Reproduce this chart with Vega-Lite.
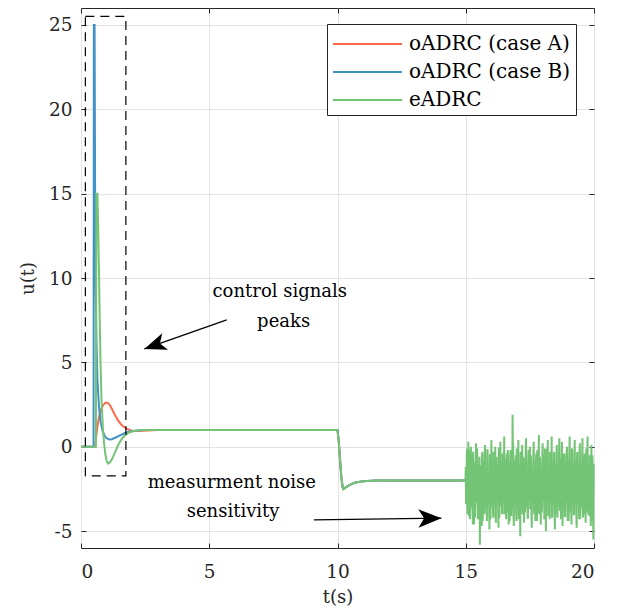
{
"$schema":"https://vega.github.io/schema/vega-lite/v6.json",
"width":513,"height":540,
"autosize":{"type":"none"},
"padding":{"left":81,"top":8,"right":27,"bottom":65},
"background":"white",
"config":{
 "font":"DejaVu Serif",
 "view":{"stroke":"#262626","strokeWidth":1},
 "axis":{"domain":false,"tickColor":"#262626","tickWidth":1,"tickSize":-5,"labelFont":"DejaVu Serif","labelFontSize":18.5,"labelColor":"#262626","gridColor":"#e3e3e3","gridWidth":1,"titleFont":"DejaVu Serif","titleFontSize":18,"titleColor":"#262626","titleFontWeight":"normal"}
},
"resolve":{"axis":{"x":"independent","y":"independent"}},
"datasets":{
 "series":[
  {"t":0,"u":0,"s":"oADRC (case A)"},{"t":0.55,"u":0,"s":"oADRC (case A)"},{"t":0.6,"u":0.7,"s":"oADRC (case A)"},{"t":0.65,"u":1.3,"s":"oADRC (case A)"},{"t":0.7,"u":1.75,"s":"oADRC (case A)"},{"t":0.78,"u":2.2,"s":"oADRC (case A)"},{"t":0.86,"u":2.45,"s":"oADRC (case A)"},{"t":0.95,"u":2.6,"s":"oADRC (case A)"},{"t":1.0,"u":2.62,"s":"oADRC (case A)"},{"t":1.07,"u":2.58,"s":"oADRC (case A)"},{"t":1.15,"u":2.4,"s":"oADRC (case A)"},{"t":1.25,"u":2.1,"s":"oADRC (case A)"},{"t":1.35,"u":1.8,"s":"oADRC (case A)"},{"t":1.45,"u":1.55,"s":"oADRC (case A)"},{"t":1.55,"u":1.35,"s":"oADRC (case A)"},{"t":1.65,"u":1.2,"s":"oADRC (case A)"},{"t":1.8,"u":1.05,"s":"oADRC (case A)"},{"t":1.95,"u":0.97,"s":"oADRC (case A)"},{"t":2.1,"u":0.94,"s":"oADRC (case A)"},{"t":2.4,"u":0.95,"s":"oADRC (case A)"},{"t":2.8,"u":0.98,"s":"oADRC (case A)"},{"t":3.2,"u":1.0,"s":"oADRC (case A)"},{"t":10,"u":1.0,"s":"oADRC (case A)"},{"t":10.05,"u":0.3,"s":"oADRC (case A)"},{"t":10.1,"u":-0.8,"s":"oADRC (case A)"},{"t":10.15,"u":-1.8,"s":"oADRC (case A)"},{"t":10.2,"u":-2.4,"s":"oADRC (case A)"},{"t":10.23,"u":-2.5,"s":"oADRC (case A)"},{"t":10.35,"u":-2.38,"s":"oADRC (case A)"},{"t":10.5,"u":-2.24,"s":"oADRC (case A)"},{"t":10.7,"u":-2.12,"s":"oADRC (case A)"},{"t":11,"u":-2.04,"s":"oADRC (case A)"},{"t":11.5,"u":-2.0,"s":"oADRC (case A)"},{"t":20,"u":-2.0,"s":"oADRC (case A)"},
  {"t":0,"u":0,"s":"oADRC (case B)"},{"t":0.49,"u":0,"s":"oADRC (case B)"},{"t":0.5,"u":25,"s":"oADRC (case B)"},{"t":0.53,"u":25,"s":"oADRC (case B)"},{"t":0.55,"u":15,"s":"oADRC (case B)"},{"t":0.57,"u":10,"s":"oADRC (case B)"},{"t":0.6,"u":6.5,"s":"oADRC (case B)"},{"t":0.64,"u":4,"s":"oADRC (case B)"},{"t":0.7,"u":2.4,"s":"oADRC (case B)"},{"t":0.76,"u":1.5,"s":"oADRC (case B)"},{"t":0.84,"u":0.95,"s":"oADRC (case B)"},{"t":0.92,"u":0.65,"s":"oADRC (case B)"},{"t":1.0,"u":0.5,"s":"oADRC (case B)"},{"t":1.1,"u":0.43,"s":"oADRC (case B)"},{"t":1.2,"u":0.45,"s":"oADRC (case B)"},{"t":1.35,"u":0.55,"s":"oADRC (case B)"},{"t":1.5,"u":0.66,"s":"oADRC (case B)"},{"t":1.7,"u":0.8,"s":"oADRC (case B)"},{"t":1.9,"u":0.9,"s":"oADRC (case B)"},{"t":2.2,"u":0.97,"s":"oADRC (case B)"},{"t":2.6,"u":1.0,"s":"oADRC (case B)"},{"t":10,"u":1.0,"s":"oADRC (case B)"},{"t":10.05,"u":0.3,"s":"oADRC (case B)"},{"t":10.1,"u":-0.8,"s":"oADRC (case B)"},{"t":10.15,"u":-1.8,"s":"oADRC (case B)"},{"t":10.2,"u":-2.4,"s":"oADRC (case B)"},{"t":10.23,"u":-2.5,"s":"oADRC (case B)"},{"t":10.35,"u":-2.38,"s":"oADRC (case B)"},{"t":10.5,"u":-2.24,"s":"oADRC (case B)"},{"t":10.7,"u":-2.12,"s":"oADRC (case B)"},{"t":11,"u":-2.04,"s":"oADRC (case B)"},{"t":11.5,"u":-2.0,"s":"oADRC (case B)"},{"t":20,"u":-2.0,"s":"oADRC (case B)"},
  {"t":0,"u":0,"s":"eADRC"},{"t":0.58,"u":0,"s":"eADRC"},{"t":0.6,"u":15,"s":"eADRC"},{"t":0.64,"u":15,"s":"eADRC"},{"t":0.67,"u":13,"s":"eADRC"},{"t":0.7,"u":10.5,"s":"eADRC"},{"t":0.73,"u":7.5,"s":"eADRC"},{"t":0.76,"u":5,"s":"eADRC"},{"t":0.8,"u":2.8,"s":"eADRC"},{"t":0.85,"u":1.2,"s":"eADRC"},{"t":0.9,"u":0.2,"s":"eADRC"},{"t":0.95,"u":-0.45,"s":"eADRC"},{"t":1.0,"u":-0.85,"s":"eADRC"},{"t":1.06,"u":-1.0,"s":"eADRC"},{"t":1.13,"u":-0.92,"s":"eADRC"},{"t":1.22,"u":-0.7,"s":"eADRC"},{"t":1.32,"u":-0.35,"s":"eADRC"},{"t":1.42,"u":0.0,"s":"eADRC"},{"t":1.52,"u":0.3,"s":"eADRC"},{"t":1.62,"u":0.52,"s":"eADRC"},{"t":1.75,"u":0.72,"s":"eADRC"},{"t":1.9,"u":0.86,"s":"eADRC"},{"t":2.1,"u":0.95,"s":"eADRC"},{"t":2.5,"u":1.0,"s":"eADRC"},{"t":10,"u":1.0,"s":"eADRC"},{"t":10.05,"u":0.3,"s":"eADRC"},{"t":10.1,"u":-0.8,"s":"eADRC"},{"t":10.15,"u":-1.8,"s":"eADRC"},{"t":10.2,"u":-2.4,"s":"eADRC"},{"t":10.23,"u":-2.5,"s":"eADRC"},{"t":10.35,"u":-2.38,"s":"eADRC"},{"t":10.5,"u":-2.24,"s":"eADRC"},{"t":10.7,"u":-2.12,"s":"eADRC"},{"t":11,"u":-2.04,"s":"eADRC"},{"t":11.5,"u":-2.0,"s":"eADRC"},{"t":14.99,"u":-2.0,"s":"eADRC"},
  {"t":15,"u":-1.2,"s":"eADRC"},{"t":15.025,"u":-3.2,"s":"eADRC"},{"t":15.05,"u":-0.1,"s":"eADRC"},{"t":15.075,"u":-2.6,"s":"eADRC"},{"t":15.1,"u":0.3,"s":"eADRC"},{"t":15.125,"u":-4.1,"s":"eADRC"},{"t":15.15,"u":-1.6,"s":"eADRC"},{"t":15.175,"u":-3.7,"s":"eADRC"},{"t":15.2,"u":0.0,"s":"eADRC"},{"t":15.225,"u":-2.9,"s":"eADRC"},
  {"t":15.25,"u":-0.6,"s":"eADRC"},{"t":15.275,"u":-4.6,"s":"eADRC"},{"t":15.3,"u":-1.3,"s":"eADRC"},{"t":15.325,"u":-4.6,"s":"eADRC"},{"t":15.35,"u":-0.9,"s":"eADRC"},{"t":15.375,"u":-3.4,"s":"eADRC"},{"t":15.4,"u":0.2,"s":"eADRC"},{"t":15.425,"u":-2.3,"s":"eADRC"},{"t":15.45,"u":-0.4,"s":"eADRC"},{"t":15.475,"u":-4.3,"s":"eADRC"},
  {"t":15.5,"u":-1.8,"s":"eADRC"},{"t":15.525,"u":-3.9,"s":"eADRC"},{"t":15.55,"u":-5.8,"s":"eADRC"},{"t":15.575,"u":-3.0,"s":"eADRC"},{"t":15.6,"u":-1.1,"s":"eADRC"},{"t":15.625,"u":-4.7,"s":"eADRC"},{"t":15.65,"u":-0.3,"s":"eADRC"},{"t":15.675,"u":-2.5,"s":"eADRC"},{"t":15.7,"u":-0.8,"s":"eADRC"},{"t":15.725,"u":-4.0,"s":"eADRC"},
  {"t":15.75,"u":0.1,"s":"eADRC"},{"t":15.775,"u":-2.8,"s":"eADRC"},{"t":15.8,"u":-1.5,"s":"eADRC"},{"t":15.825,"u":-4.4,"s":"eADRC"},{"t":15.85,"u":-0.2,"s":"eADRC"},{"t":15.875,"u":-3.3,"s":"eADRC"},{"t":15.9,"u":-1.7,"s":"eADRC"},{"t":15.925,"u":-4.9,"s":"eADRC"},{"t":15.95,"u":-0.5,"s":"eADRC"},{"t":15.975,"u":-2.7,"s":"eADRC"},
  {"t":16,"u":0.4,"s":"eADRC"},{"t":16.025,"u":-3.6,"s":"eADRC"},{"t":16.05,"u":-1.4,"s":"eADRC"},{"t":16.075,"u":-4.2,"s":"eADRC"},{"t":16.1,"u":-1.0,"s":"eADRC"},{"t":16.125,"u":-2.4,"s":"eADRC"},{"t":16.15,"u":0.0,"s":"eADRC"},{"t":16.175,"u":-4.5,"s":"eADRC"},{"t":16.2,"u":-0.7,"s":"eADRC"},{"t":16.225,"u":-3.1,"s":"eADRC"},
  {"t":16.25,"u":-1.9,"s":"eADRC"},{"t":16.275,"u":-4.8,"s":"eADRC"},{"t":16.3,"u":-0.1,"s":"eADRC"},{"t":16.325,"u":-2.9,"s":"eADRC"},{"t":16.35,"u":0.3,"s":"eADRC"},{"t":16.375,"u":-3.5,"s":"eADRC"},{"t":16.4,"u":-1.2,"s":"eADRC"},{"t":16.425,"u":-4.0,"s":"eADRC"},{"t":16.45,"u":-0.6,"s":"eADRC"},{"t":16.475,"u":-2.2,"s":"eADRC"},
  {"t":16.5,"u":0.6,"s":"eADRC"},{"t":16.525,"u":-3.8,"s":"eADRC"},{"t":16.55,"u":-1.6,"s":"eADRC"},{"t":16.575,"u":-4.3,"s":"eADRC"},{"t":16.6,"u":-0.4,"s":"eADRC"},{"t":16.625,"u":-3.0,"s":"eADRC"},{"t":16.65,"u":-0.7,"s":"eADRC"},{"t":16.675,"u":-4.6,"s":"eADRC"},{"t":16.7,"u":-0.9,"s":"eADRC"},{"t":16.725,"u":-2.6,"s":"eADRC"},
  {"t":16.75,"u":-0.2,"s":"eADRC"},{"t":16.775,"u":-4.1,"s":"eADRC"},{"t":16.8,"u":-1.3,"s":"eADRC"},{"t":16.825,"u":1.9,"s":"eADRC"},{"t":16.85,"u":0.2,"s":"eADRC"},{"t":16.875,"u":-4.7,"s":"eADRC"},{"t":16.9,"u":-1.1,"s":"eADRC"},{"t":16.925,"u":-2.8,"s":"eADRC"},{"t":16.95,"u":-0.5,"s":"eADRC"},{"t":16.975,"u":-4.4,"s":"eADRC"},
  {"t":17,"u":-1.7,"s":"eADRC"},{"t":17.025,"u":-3.7,"s":"eADRC"},{"t":17.05,"u":0.4,"s":"eADRC"},{"t":17.075,"u":-3.2,"s":"eADRC"},{"t":17.1,"u":-1.0,"s":"eADRC"},{"t":17.125,"u":-5.3,"s":"eADRC"},{"t":17.15,"u":-0.3,"s":"eADRC"},{"t":17.175,"u":-2.5,"s":"eADRC"},{"t":17.2,"u":0.1,"s":"eADRC"},{"t":17.225,"u":-3.9,"s":"eADRC"},
  {"t":17.25,"u":-1.4,"s":"eADRC"},{"t":17.275,"u":-4.5,"s":"eADRC"},{"t":17.3,"u":-0.7,"s":"eADRC"},{"t":17.325,"u":-2.3,"s":"eADRC"},{"t":17.35,"u":0.5,"s":"eADRC"},{"t":17.375,"u":-3.6,"s":"eADRC"},{"t":17.4,"u":-1.8,"s":"eADRC"},{"t":17.425,"u":-4.2,"s":"eADRC"},{"t":17.45,"u":-0.2,"s":"eADRC"},{"t":17.475,"u":-3.1,"s":"eADRC"},
  {"t":17.5,"u":0.0,"s":"eADRC"},{"t":17.525,"u":-2.7,"s":"eADRC"},{"t":17.55,"u":-0.9,"s":"eADRC"},{"t":17.575,"u":-4.8,"s":"eADRC"},{"t":17.6,"u":-1.5,"s":"eADRC"},{"t":17.625,"u":-3.3,"s":"eADRC"},{"t":17.65,"u":0.3,"s":"eADRC"},{"t":17.675,"u":-4.0,"s":"eADRC"},{"t":17.7,"u":-1.2,"s":"eADRC"},{"t":17.725,"u":-2.9,"s":"eADRC"},
  {"t":17.75,"u":-0.4,"s":"eADRC"},{"t":17.775,"u":-4.4,"s":"eADRC"},{"t":17.8,"u":-1.6,"s":"eADRC"},{"t":17.825,"u":-3.8,"s":"eADRC"},{"t":17.85,"u":0.7,"s":"eADRC"},{"t":17.875,"u":-3.0,"s":"eADRC"},{"t":17.9,"u":-0.8,"s":"eADRC"},{"t":17.925,"u":-4.6,"s":"eADRC"},{"t":17.95,"u":-1.3,"s":"eADRC"},{"t":17.975,"u":-3.5,"s":"eADRC"},
  {"t":18,"u":0.2,"s":"eADRC"},{"t":18.025,"u":-2.4,"s":"eADRC"},{"t":18.05,"u":-0.5,"s":"eADRC"},{"t":18.075,"u":-4.1,"s":"eADRC"},{"t":18.1,"u":-1.1,"s":"eADRC"},{"t":18.125,"u":-5.0,"s":"eADRC"},{"t":18.15,"u":-0.1,"s":"eADRC"},{"t":18.175,"u":-2.8,"s":"eADRC"},{"t":18.2,"u":0.4,"s":"eADRC"},{"t":18.225,"u":-3.7,"s":"eADRC"},
  {"t":18.25,"u":-1.7,"s":"eADRC"},{"t":18.275,"u":-4.3,"s":"eADRC"},{"t":18.3,"u":-0.6,"s":"eADRC"},{"t":18.325,"u":-3.2,"s":"eADRC"},{"t":18.35,"u":0.6,"s":"eADRC"},{"t":18.375,"u":-4.0,"s":"eADRC"},{"t":18.4,"u":-1.4,"s":"eADRC"},{"t":18.425,"u":-2.6,"s":"eADRC"},{"t":18.45,"u":-0.3,"s":"eADRC"},{"t":18.475,"u":-4.9,"s":"eADRC"},
  {"t":18.5,"u":-1.0,"s":"eADRC"},{"t":18.525,"u":-3.4,"s":"eADRC"},{"t":18.55,"u":0.1,"s":"eADRC"},{"t":18.575,"u":-4.2,"s":"eADRC"},{"t":18.6,"u":-1.5,"s":"eADRC"},{"t":18.625,"u":-3.1,"s":"eADRC"},{"t":18.65,"u":0.5,"s":"eADRC"},{"t":18.675,"u":-3.8,"s":"eADRC"},{"t":18.7,"u":-0.7,"s":"eADRC"},{"t":18.725,"u":-2.5,"s":"eADRC"},
  {"t":18.75,"u":0.3,"s":"eADRC"},{"t":18.775,"u":-4.7,"s":"eADRC"},{"t":18.8,"u":-1.2,"s":"eADRC"},{"t":18.825,"u":-3.5,"s":"eADRC"},{"t":18.85,"u":-0.4,"s":"eADRC"},{"t":18.875,"u":-4.1,"s":"eADRC"},{"t":18.9,"u":-1.8,"s":"eADRC"},{"t":18.925,"u":-3.0,"s":"eADRC"},{"t":18.95,"u":0.0,"s":"eADRC"},{"t":18.975,"u":-4.4,"s":"eADRC"},
  {"t":19,"u":-0.8,"s":"eADRC"},{"t":19.025,"u":-2.7,"s":"eADRC"},{"t":19.05,"u":0.6,"s":"eADRC"},{"t":19.075,"u":-3.9,"s":"eADRC"},{"t":19.1,"u":-1.6,"s":"eADRC"},{"t":19.125,"u":-4.6,"s":"eADRC"},{"t":19.15,"u":-0.2,"s":"eADRC"},{"t":19.175,"u":-3.2,"s":"eADRC"},{"t":19.2,"u":-1.1,"s":"eADRC"},{"t":19.225,"u":-4.0,"s":"eADRC"},
  {"t":19.25,"u":0.4,"s":"eADRC"},{"t":19.275,"u":-2.3,"s":"eADRC"},{"t":19.3,"u":-0.9,"s":"eADRC"},{"t":19.325,"u":-4.8,"s":"eADRC"},{"t":19.35,"u":-0.3,"s":"eADRC"},{"t":19.375,"u":-3.4,"s":"eADRC"},{"t":19.4,"u":-1.4,"s":"eADRC"},{"t":19.425,"u":-4.3,"s":"eADRC"},{"t":19.45,"u":0.2,"s":"eADRC"},{"t":19.475,"u":-2.9,"s":"eADRC"},
  {"t":19.5,"u":-1.3,"s":"eADRC"},{"t":19.525,"u":-3.6,"s":"eADRC"},{"t":19.55,"u":0.5,"s":"eADRC"},{"t":19.575,"u":-4.2,"s":"eADRC"},{"t":19.6,"u":-0.6,"s":"eADRC"},{"t":19.625,"u":-3.0,"s":"eADRC"},{"t":19.65,"u":-1.7,"s":"eADRC"},{"t":19.675,"u":-4.5,"s":"eADRC"},{"t":19.7,"u":-0.1,"s":"eADRC"},{"t":19.725,"u":-3.3,"s":"eADRC"},
  {"t":19.75,"u":0.6,"s":"eADRC"},{"t":19.775,"u":-4.0,"s":"eADRC"},{"t":19.8,"u":-1.2,"s":"eADRC"},{"t":19.825,"u":-2.6,"s":"eADRC"},{"t":19.85,"u":-0.5,"s":"eADRC"},{"t":19.875,"u":-4.7,"s":"eADRC"},{"t":19.9,"u":0.1,"s":"eADRC"},{"t":19.925,"u":-3.1,"s":"eADRC"},{"t":19.95,"u":-1.5,"s":"eADRC"},{"t":19.975,"u":-5.5,"s":"eADRC"},
  {"t":20,"u":-1.0,"s":"eADRC"},
  {"t":15.0125,"u":-3.4,"s":"eADRC"},{"t":15.0375,"u":-0.8,"s":"eADRC"},{"t":15.0625,"u":-4.0,"s":"eADRC"},{"t":15.0875,"u":-1.9,"s":"eADRC"},{"t":15.1125,"u":-3.1,"s":"eADRC"},{"t":15.1375,"u":-0.2,"s":"eADRC"},{"t":15.1625,"u":-4.3,"s":"eADRC"},{"t":15.1875,"u":-1.1,"s":"eADRC"},{"t":15.2125,"u":-3.6,"s":"eADRC"},{"t":15.2375,"u":-0.5,"s":"eADRC"},
  {"t":15.2625,"u":-2.8,"s":"eADRC"},{"t":15.2875,"u":-0.3,"s":"eADRC"},{"t":15.3125,"u":-3.9,"s":"eADRC"},{"t":15.3375,"u":-1.5,"s":"eADRC"},{"t":15.3625,"u":-4.2,"s":"eADRC"},{"t":15.3875,"u":-0.9,"s":"eADRC"},{"t":15.4125,"u":-3.3,"s":"eADRC"},{"t":15.4375,"u":-0.1,"s":"eADRC"},{"t":15.4625,"u":-2.5,"s":"eADRC"},{"t":15.4875,"u":-1.2,"s":"eADRC"},
  {"t":15.5125,"u":-4.1,"s":"eADRC"},{"t":15.5375,"u":-0.6,"s":"eADRC"},{"t":15.5625,"u":-3.0,"s":"eADRC"},{"t":15.5875,"u":-1.7,"s":"eADRC"},{"t":15.6125,"u":-3.8,"s":"eADRC"},{"t":15.6375,"u":-0.4,"s":"eADRC"},{"t":15.6625,"u":-4.4,"s":"eADRC"},{"t":15.6875,"u":-1.0,"s":"eADRC"},{"t":15.7125,"u":-2.9,"s":"eADRC"},{"t":15.7375,"u":-0.7,"s":"eADRC"},
  {"t":15.7625,"u":-3.5,"s":"eADRC"},{"t":15.7875,"u":-1.3,"s":"eADRC"},{"t":15.8125,"u":-4.0,"s":"eADRC"},{"t":15.8375,"u":-0.2,"s":"eADRC"},{"t":15.8625,"u":-3.2,"s":"eADRC"},{"t":15.8875,"u":-1.6,"s":"eADRC"},{"t":15.9125,"u":-3.7,"s":"eADRC"},{"t":15.9375,"u":-0.5,"s":"eADRC"},{"t":15.9625,"u":-4.3,"s":"eADRC"},{"t":15.9875,"u":-1.4,"s":"eADRC"},
  {"t":16.0125,"u":-2.7,"s":"eADRC"},{"t":16.0375,"u":-0.8,"s":"eADRC"},{"t":16.0625,"u":-3.9,"s":"eADRC"},{"t":16.0875,"u":-0.3,"s":"eADRC"},{"t":16.1125,"u":-3.4,"s":"eADRC"},{"t":16.1375,"u":-1.8,"s":"eADRC"},{"t":16.1625,"u":-4.1,"s":"eADRC"},{"t":16.1875,"u":-0.6,"s":"eADRC"},{"t":16.2125,"u":-3.0,"s":"eADRC"},{"t":16.2375,"u":-1.1,"s":"eADRC"},
  {"t":16.2625,"u":-3.6,"s":"eADRC"},{"t":16.2875,"u":-0.1,"s":"eADRC"},{"t":16.3125,"u":-4.2,"s":"eADRC"},{"t":16.3375,"u":-1.5,"s":"eADRC"},{"t":16.3625,"u":-2.8,"s":"eADRC"},{"t":16.3875,"u":-0.9,"s":"eADRC"},{"t":16.4125,"u":-3.8,"s":"eADRC"},{"t":16.4375,"u":-0.4,"s":"eADRC"},{"t":16.4625,"u":-3.3,"s":"eADRC"},{"t":16.4875,"u":-1.7,"s":"eADRC"},
  {"t":16.5125,"u":-4.0,"s":"eADRC"},{"t":16.5375,"u":-0.7,"s":"eADRC"},{"t":16.5625,"u":-3.1,"s":"eADRC"},{"t":16.5875,"u":-1.2,"s":"eADRC"},{"t":16.6125,"u":-3.9,"s":"eADRC"},{"t":16.6375,"u":-0.2,"s":"eADRC"},{"t":16.6625,"u":-3.5,"s":"eADRC"},{"t":16.6875,"u":-1.0,"s":"eADRC"},{"t":16.7125,"u":-4.4,"s":"eADRC"},{"t":16.7375,"u":-0.5,"s":"eADRC"},
  {"t":16.7625,"u":-2.6,"s":"eADRC"},{"t":16.7875,"u":-1.4,"s":"eADRC"},{"t":16.8125,"u":-3.7,"s":"eADRC"},{"t":16.8375,"u":-0.3,"s":"eADRC"},{"t":16.8625,"u":-4.1,"s":"eADRC"},{"t":16.8875,"u":-0.8,"s":"eADRC"},{"t":16.9125,"u":-3.2,"s":"eADRC"},{"t":16.9375,"u":-1.6,"s":"eADRC"},{"t":16.9625,"u":-3.8,"s":"eADRC"},{"t":16.9875,"u":-0.1,"s":"eADRC"},
  {"t":17.0125,"u":-3.3,"s":"eADRC"},{"t":17.0375,"u":-0.9,"s":"eADRC"},{"t":17.0625,"u":-4.3,"s":"eADRC"},{"t":17.0875,"u":-1.3,"s":"eADRC"},{"t":17.1125,"u":-2.9,"s":"eADRC"},{"t":17.1375,"u":-0.4,"s":"eADRC"},{"t":17.1625,"u":-3.6,"s":"eADRC"},{"t":17.1875,"u":-1.8,"s":"eADRC"},{"t":17.2125,"u":-4.0,"s":"eADRC"},{"t":17.2375,"u":-0.6,"s":"eADRC"},
  {"t":17.2625,"u":-3.1,"s":"eADRC"},{"t":17.2875,"u":-1.1,"s":"eADRC"},{"t":17.3125,"u":-3.9,"s":"eADRC"},{"t":17.3375,"u":-0.2,"s":"eADRC"},{"t":17.3625,"u":-3.4,"s":"eADRC"},{"t":17.3875,"u":-1.5,"s":"eADRC"},{"t":17.4125,"u":-4.2,"s":"eADRC"},{"t":17.4375,"u":-0.7,"s":"eADRC"},{"t":17.4625,"u":-2.8,"s":"eADRC"},{"t":17.4875,"u":-1.0,"s":"eADRC"},
  {"t":17.5125,"u":-3.7,"s":"eADRC"},{"t":17.5375,"u":-0.5,"s":"eADRC"},{"t":17.5625,"u":-4.1,"s":"eADRC"},{"t":17.5875,"u":-1.6,"s":"eADRC"},{"t":17.6125,"u":-3.0,"s":"eADRC"},{"t":17.6375,"u":-0.3,"s":"eADRC"},{"t":17.6625,"u":-3.8,"s":"eADRC"},{"t":17.6875,"u":-1.2,"s":"eADRC"},{"t":17.7125,"u":-4.4,"s":"eADRC"},{"t":17.7375,"u":-0.8,"s":"eADRC"},
  {"t":17.7625,"u":-2.9,"s":"eADRC"},{"t":17.7875,"u":-0.2,"s":"eADRC"},{"t":17.8125,"u":-3.5,"s":"eADRC"},{"t":17.8375,"u":-1.4,"s":"eADRC"},{"t":17.8625,"u":-4.0,"s":"eADRC"},{"t":17.8875,"u":-0.6,"s":"eADRC"},{"t":17.9125,"u":-3.3,"s":"eADRC"},{"t":17.9375,"u":-1.9,"s":"eADRC"},{"t":17.9625,"u":-3.9,"s":"eADRC"},{"t":17.9875,"u":-0.4,"s":"eADRC"},
  {"t":18.0125,"u":-3.2,"s":"eADRC"},{"t":18.0375,"u":-1.0,"s":"eADRC"},{"t":18.0625,"u":-4.3,"s":"eADRC"},{"t":18.0875,"u":-0.1,"s":"eADRC"},{"t":18.1125,"u":-3.6,"s":"eADRC"},{"t":18.1375,"u":-1.3,"s":"eADRC"},{"t":18.1625,"u":-2.7,"s":"eADRC"},{"t":18.1875,"u":-0.7,"s":"eADRC"},{"t":18.2125,"u":-4.1,"s":"eADRC"},{"t":18.2375,"u":-1.5,"s":"eADRC"},
  {"t":18.2625,"u":-3.8,"s":"eADRC"},{"t":18.2875,"u":-0.3,"s":"eADRC"},{"t":18.3125,"u":-3.1,"s":"eADRC"},{"t":18.3375,"u":-1.1,"s":"eADRC"},{"t":18.3625,"u":-4.2,"s":"eADRC"},{"t":18.3875,"u":-0.9,"s":"eADRC"},{"t":18.4125,"u":-3.4,"s":"eADRC"},{"t":18.4375,"u":-0.5,"s":"eADRC"},{"t":18.4625,"u":-3.9,"s":"eADRC"},{"t":18.4875,"u":-1.7,"s":"eADRC"},
  {"t":18.5125,"u":-2.8,"s":"eADRC"},{"t":18.5375,"u":-0.6,"s":"eADRC"},{"t":18.5625,"u":-4.0,"s":"eADRC"},{"t":18.5875,"u":-1.2,"s":"eADRC"},{"t":18.6125,"u":-3.5,"s":"eADRC"},{"t":18.6375,"u":-0.2,"s":"eADRC"},{"t":18.6625,"u":-3.7,"s":"eADRC"},{"t":18.6875,"u":-1.4,"s":"eADRC"},{"t":18.7125,"u":-4.3,"s":"eADRC"},{"t":18.7375,"u":-0.8,"s":"eADRC"},
  {"t":18.7625,"u":-3.0,"s":"eADRC"},{"t":18.7875,"u":-0.4,"s":"eADRC"},{"t":18.8125,"u":-3.8,"s":"eADRC"},{"t":18.8375,"u":-1.6,"s":"eADRC"},{"t":18.8625,"u":-4.1,"s":"eADRC"},{"t":18.8875,"u":-1.0,"s":"eADRC"},{"t":18.9125,"u":-3.2,"s":"eADRC"},{"t":18.9375,"u":-0.3,"s":"eADRC"},{"t":18.9625,"u":-3.6,"s":"eADRC"},{"t":18.9875,"u":-1.3,"s":"eADRC"},
  {"t":19.0125,"u":-4.4,"s":"eADRC"},{"t":19.0375,"u":-0.7,"s":"eADRC"},{"t":19.0625,"u":-2.9,"s":"eADRC"},{"t":19.0875,"u":-1.8,"s":"eADRC"},{"t":19.1125,"u":-3.9,"s":"eADRC"},{"t":19.1375,"u":-0.1,"s":"eADRC"},{"t":19.1625,"u":-3.4,"s":"eADRC"},{"t":19.1875,"u":-1.1,"s":"eADRC"},{"t":19.2125,"u":-4.0,"s":"eADRC"},{"t":19.2375,"u":-0.5,"s":"eADRC"},
  {"t":19.2625,"u":-3.3,"s":"eADRC"},{"t":19.2875,"u":-1.5,"s":"eADRC"},{"t":19.3125,"u":-4.2,"s":"eADRC"},{"t":19.3375,"u":-0.6,"s":"eADRC"},{"t":19.3625,"u":-3.1,"s":"eADRC"},{"t":19.3875,"u":-0.9,"s":"eADRC"},{"t":19.4125,"u":-3.7,"s":"eADRC"},{"t":19.4375,"u":-0.2,"s":"eADRC"},{"t":19.4625,"u":-4.3,"s":"eADRC"},{"t":19.4875,"u":-1.2,"s":"eADRC"},
  {"t":19.5125,"u":-2.7,"s":"eADRC"},{"t":19.5375,"u":-0.8,"s":"eADRC"},{"t":19.5625,"u":-3.6,"s":"eADRC"},{"t":19.5875,"u":-1.4,"s":"eADRC"},{"t":19.6125,"u":-4.0,"s":"eADRC"},{"t":19.6375,"u":-0.4,"s":"eADRC"},{"t":19.6625,"u":-3.0,"s":"eADRC"},{"t":19.6875,"u":-1.7,"s":"eADRC"},{"t":19.7125,"u":-3.8,"s":"eADRC"},{"t":19.7375,"u":-0.3,"s":"eADRC"},
  {"t":19.7625,"u":-3.5,"s":"eADRC"},{"t":19.7875,"u":-1.0,"s":"eADRC"},{"t":19.8125,"u":-4.1,"s":"eADRC"},{"t":19.8375,"u":-0.6,"s":"eADRC"},{"t":19.8625,"u":-3.2,"s":"eADRC"},{"t":19.8875,"u":-1.3,"s":"eADRC"},{"t":19.9125,"u":-4.4,"s":"eADRC"},{"t":19.9375,"u":-0.5,"s":"eADRC"},{"t":19.9625,"u":-3.4,"s":"eADRC"},{"t":19.9875,"u":-1.1,"s":"eADRC"}
 ],
 "box":[{"t0":0.17,"t1":1.75,"u0":-1.72,"u1":25.5}],
 "notes":[{"t":7.75,"u":9.2,"text":"control signals"},{"t":7.9,"u":7.42,"text":"peaks"},{"t":5.88,"u":-2.14,"text":"measurment noise"},{"t":5.93,"u":-3.84,"text":"sensitivity"}],
 "arrows":[{"id":"a","t1":5.68,"u1":7.52,"t2":2.47,"u2":5.8},{"id":"b","t1":9.08,"u1":-4.33,"t2":14.05,"u2":-4.23}]
},
"layer":[
 {
  "data":{"name":"series"},
  "mark":{"type":"line","strokeWidth":2,"interpolate":"linear"},
  "encoding":{
   "x":{"field":"t","type":"quantitative","scale":{"domain":[0,20],"nice":false,"zero":false},
        "axis":{"orient":"bottom","values":[0,5,10,15,20],"grid":true,"title":"t(s)","labelPadding":19,"titlePadding":8}},
   "y":{"field":"u","type":"quantitative","scale":{"domain":[-6,26],"nice":false,"zero":false},
        "axis":{"orient":"left","values":[-5,0,5,10,15,20,25],"grid":true,"title":"u(t)","labelPadding":14,"titlePadding":11,
                "labelExpr":"datum.value < 0 ? '-' + abs(datum.value) : datum.label"}},
   "color":{"field":"s","type":"nominal",
     "scale":{"domain":["oADRC (case A)","oADRC (case B)","eADRC"],"range":["#fb6a4a","#4292c6","#74c476"]},
     "legend":{"orient":"none","legendX":246,"legendY":16,"title":null,"symbolType":"M-1,0H3.93","symbolSize":784,"symbolStrokeWidth":2,
       "labelFont":"DejaVu Serif","labelFontSize":20,"labelColor":"#000000","labelLimit":400,"labelOffset":47,
       "strokeColor":"#262626","fillColor":"white","padding":5,"rowPadding":3,"cornerRadius":0}},
   "order":{"field":"t","type":"quantitative"}
  }
 },
 {
  "data":{"name":"box"},
  "mark":{"type":"rect","fill":null,"filled":false,"stroke":"#000000","strokeWidth":1.2,"strokeDash":[9,6]},
  "encoding":{
   "x":{"field":"t0","type":"quantitative","axis":{"orient":"top","labels":false,"grid":false,"title":null,"values":[0,5,10,15,20]}},
   "x2":{"field":"t1"},
   "y":{"field":"u0","type":"quantitative","axis":{"orient":"right","labels":false,"grid":false,"title":null,"values":[-5,0,5,10,15,20,25]}},
   "y2":{"field":"u1"}
  }
 },
 {
  "data":{"name":"notes"},
  "mark":{"type":"text","font":"DejaVu Serif","fontSize":18,"color":"#000000","align":"center","baseline":"middle"},
  "encoding":{
   "x":{"field":"t","type":"quantitative","axis":null},
   "y":{"field":"u","type":"quantitative","axis":null},
   "text":{"field":"text"}
  }
 },
 {
  "data":{"name":"arrows"},
  "mark":{"type":"rule","color":"#000000","strokeWidth":1.3},
  "encoding":{
   "x":{"field":"t1","type":"quantitative","axis":null},
   "y":{"field":"u1","type":"quantitative","axis":null},
   "x2":{"field":"t2"},
   "y2":{"field":"u2"}
  }
 },
 {
  "data":{"name":"arrows"},
  "transform":[{"filter":"datum.id == 'a'"}],
  "mark":{"type":"point","shape":"M0,0L-2,-0.8L-1.5,0L-2,0.8Z","filled":true,"color":"#000000","opacity":1,"size":484,"angle":160.6},
  "encoding":{
   "x":{"field":"t2","type":"quantitative","axis":null},
   "y":{"field":"u2","type":"quantitative","axis":null}
  }
 },
 {
  "data":{"name":"arrows"},
  "transform":[{"filter":"datum.id == 'b'"}],
  "mark":{"type":"point","shape":"M0,0L-2,-0.8L-1.5,0L-2,0.8Z","filled":true,"color":"#000000","opacity":1,"size":529,"angle":359.2},
  "encoding":{
   "x":{"field":"t2","type":"quantitative","axis":null},
   "y":{"field":"u2","type":"quantitative","axis":null}
  }
 }
]
}
